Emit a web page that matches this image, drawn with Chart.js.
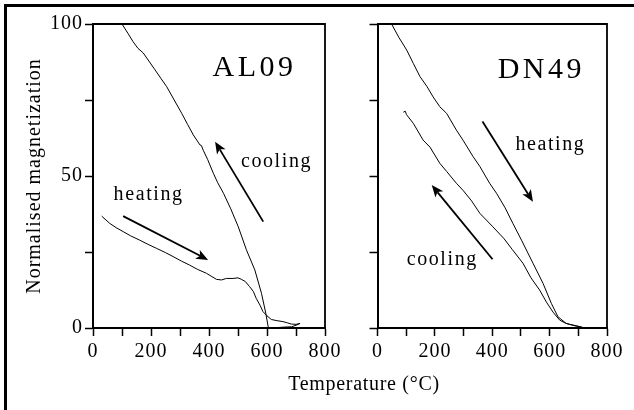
<!DOCTYPE html>
<html>
<head>
<meta charset="utf-8">
<script src="https://cdn.jsdelivr.net/npm/chart.js@4.4.1/dist/chart.umd.min.js"></script>
<style>
  body { margin: 0; background: #fff; }
  #wrap { position: relative; width: 634px; height: 410px; overflow: hidden; background: #fff; }
  #frame { position: absolute; left: 4px; top: 4px; width: 700px; height: 500px; border-left: 3px solid #000; border-top: 3px solid #000; }
  #c1 { position: absolute; left: 0; top: 0; }
  #c2 { position: absolute; left: 345px; top: 0; }
  #xtitle { position: absolute; left: 214px; top: 371px; width: 300px; text-align: center;
    font: 20px/24px "Liberation Serif", "Times New Roman", serif; letter-spacing: 0.7px; color: #000; }
</style>
</head>
<body>
<div id="wrap">
  <div id="frame"></div>
  <canvas id="c1" width="345" height="410"></canvas>
  <canvas id="c2" width="289" height="410"></canvas>
  <div id="xtitle">Temperature (°C)</div>
</div>
<script>
// AL09 - heating
const alHeatT = [30, 45, 58, 80, 104, 130, 161, 190, 219, 250, 276, 305, 333, 360, 391, 410, 426, 443, 460, 483, 500, 512, 525, 540, 553, 563, 576, 586, 600, 615, 635, 655, 670, 684, 700, 714];
const alHeatM = [36.8, 35.5, 34.4, 33, 31.7, 30.3, 28.9, 27.5, 26.2, 24.8, 23.5, 22, 20.7, 19.3, 18, 16.9, 16, 15.8, 16.3, 16.3, 16.5, 16, 15.3, 13.6, 12, 9.7, 7.5, 5.4, 4, 2.8, 2.4, 2.1, 1.7, 1.3, 1.2, 1.5];
// AL09 - cooling
const alCoolT = [100, 120, 138, 155, 173, 195, 214, 235, 254, 280, 306, 326, 346, 369, 374, 380, 395, 415, 430, 450, 475, 501, 529, 558, 581, 596, 604, 609, 630, 660, 685, 700, 714];
const alCoolM = [100, 97, 94.2, 92, 90.5, 87.5, 84.9, 82, 79.4, 75, 70.6, 67, 63.5, 60.2, 60, 58.5, 55.5, 50.9, 47.8, 44.3, 39.2, 33.3, 25.7, 19.1, 11.4, 4.8, 0.4, 0, 0.1, 0.3, 0.4, 0.9, 1.5];
// DN49 - heating
const dnHeatT = [49, 75, 102, 125, 148, 172, 194, 217, 241, 275, 298, 333, 357, 391, 415, 445, 472, 502, 542, 577, 606, 629, 658, 693, 716];
const dnHeatM = [100, 95.5, 91.4, 87, 82.7, 79.5, 76, 72.8, 70.6, 65.1, 61.8, 56.4, 53.1, 47.6, 44.3, 39.5, 34.4, 28.9, 21.3, 14.7, 8.1, 3.7, 1.5, 0.6, 0.2];
// DN49 - cooling
const dnCoolT = [90, 97, 101, 125, 159, 183, 217, 241, 275, 298, 328, 357, 400, 440, 470, 507, 535, 565, 589, 612, 635, 655, 670, 704, 716];
const dnCoolM = [71, 71.3, 70.2, 67.3, 61.8, 59.5, 54.2, 51.5, 47.6, 45.3, 41.8, 37.7, 33.5, 29.5, 25.8, 21.3, 16.5, 12.5, 8.5, 5.2, 2.6, 1.6, 1.2, 0.5, 0.1];

const xTicks = [0, 200, 400, 600, 800];
const yTicks = [0, 50, 100];

// annotations: [text, T, M, size, spacing]
const alLabels = [["AL09", 551, 85.5, 30, 3.5], ["cooling", 630, 54.6, 20, 1.6], ["heating", 189, 43.8, 20, 1.6]];
const dnLabels = [["DN49", 565, 84.9, 30, 3.5], ["heating", 600, 60.2, 20, 1.6], ["cooling", 223, 22.4, 20, 1.6]];
// arrows: [fromT, fromM, toT, toM]
const alArrows = [[104, 36.8, 397, 22.4], [587, 35, 421, 61.3]];
const dnArrows = [[366, 67.9, 542, 41.5], [401, 22.6, 189, 47]];

const FONT = '"Liberation Serif", "Times New Roman", serif';

function pts(t, m) {
  return t.map((x, i) => ({ x: x, y: m[i] }));
}

function notes(labels, arrows) {
  return {
    id: "notes",
    beforeDraw(chart) {
      chart.ctx.letterSpacing = "1px";
    },
    afterDraw(chart) {
      const ctx = chart.ctx;
      const xs = chart.scales.x, ys = chart.scales.y;
      const a = chart.chartArea;
      ctx.save();
      // top and right edges of the box
      ctx.strokeStyle = "#000";
      ctx.lineWidth = 1.8;
      ctx.beginPath();
      ctx.moveTo(a.left, a.top);
      ctx.lineTo(a.right, a.top);
      ctx.lineTo(a.right, a.bottom);
      ctx.stroke();
      // arrows
      ctx.fillStyle = "#000";
      arrows.forEach((ar) => {
        const x1 = xs.getPixelForValue(ar[0]), y1 = ys.getPixelForValue(ar[1]);
        const x2 = xs.getPixelForValue(ar[2]), y2 = ys.getPixelForValue(ar[3]);
        const ang = Math.atan2(y2 - y1, x2 - x1);
        const hl = 12, hw = 5;
        const bx = x2 - hl * Math.cos(ang), by = y2 - hl * Math.sin(ang);
        ctx.lineWidth = 1.8;
        ctx.beginPath();
        ctx.moveTo(x1, y1);
        ctx.lineTo(bx + 3 * Math.cos(ang), by + 3 * Math.sin(ang));
        ctx.stroke();
        ctx.beginPath();
        ctx.moveTo(x2, y2);
        ctx.lineTo(bx + hw * Math.sin(ang), by - hw * Math.cos(ang));
        ctx.lineTo(bx + 3 * Math.cos(ang), by + 3 * Math.sin(ang));
        ctx.lineTo(bx - hw * Math.sin(ang), by + hw * Math.cos(ang));
        ctx.closePath();
        ctx.fill();
      });
      // texts
      ctx.textAlign = "center";
      ctx.textBaseline = "middle";
      labels.forEach((l) => {
        ctx.font = l[3] + "px " + FONT;
        ctx.letterSpacing = l[4] + "px";
        ctx.fillText(l[0], xs.getPixelForValue(l[1]) + l[4] / 2, ys.getPixelForValue(l[2]));
      });
      ctx.restore();
    },
  };
}

function makeChart(id, heatT, heatM, coolT, coolM, labels, arrows, showY, leftW, padRight) {
  const line = { borderColor: "#000", borderWidth: 1, pointRadius: 0, tension: 0, fill: false, clip: false };
  return new Chart(document.getElementById(id), {
    type: "line",
    data: {
      datasets: [
        Object.assign({ label: "heating", data: pts(heatT, heatM) }, line),
        Object.assign({ label: "cooling", data: pts(coolT, coolM) }, line),
      ],
    },
    options: {
      responsive: false,
      animation: false,
      layout: { padding: { top: 24, right: padRight, left: 0, bottom: 0 } },
      plugins: { legend: { display: false }, tooltip: { enabled: false } },
      scales: {
        x: {
          type: "linear",
          min: 0,
          max: 800,
          afterFit: (s) => { s.height = 82; },
          ticks: {
            stepSize: 100,
            autoSkip: false,
            maxRotation: 0,
            padding: 4,
            color: "#000",
            font: { family: FONT, size: 20 },
            callback: (v) => (xTicks.includes(v) ? v : ""),
          },
          grid: { drawOnChartArea: false, tickLength: 8, tickColor: "#000", tickWidth: 1.5 },
          border: { color: "#000", width: 2 },
        },
        y: {
          min: 0,
          max: 100,
          afterFit: (s) => { s.width = leftW; },
          ticks: {
            stepSize: 25,
            padding: 2,
            color: "#000",
            font: { family: FONT, size: 20 },
            callback: (v) => (showY && yTicks.includes(v) ? v : ""),
          },
          title: {
            display: showY,
            text: "Normalised magnetization",
            color: "#000",
            font: { family: FONT, size: 20 },
            padding: { top: 23, bottom: 0 },
          },
          grid: { drawOnChartArea: false, tickLength: 8, tickColor: "#000", tickWidth: 1.5 },
          border: { color: "#000", width: 2 },
        },
      },
    },
    plugins: [notes(labels, arrows)],
  });
}

makeChart("c1", alHeatT, alHeatM, alCoolT, alCoolM, alLabels, alArrows, true, 93, 20);
makeChart("c2", dnHeatT, dnHeatM, dnCoolT, dnCoolM, dnLabels, dnArrows, false, 32.5, 27);
</script>
</body>
</html>
